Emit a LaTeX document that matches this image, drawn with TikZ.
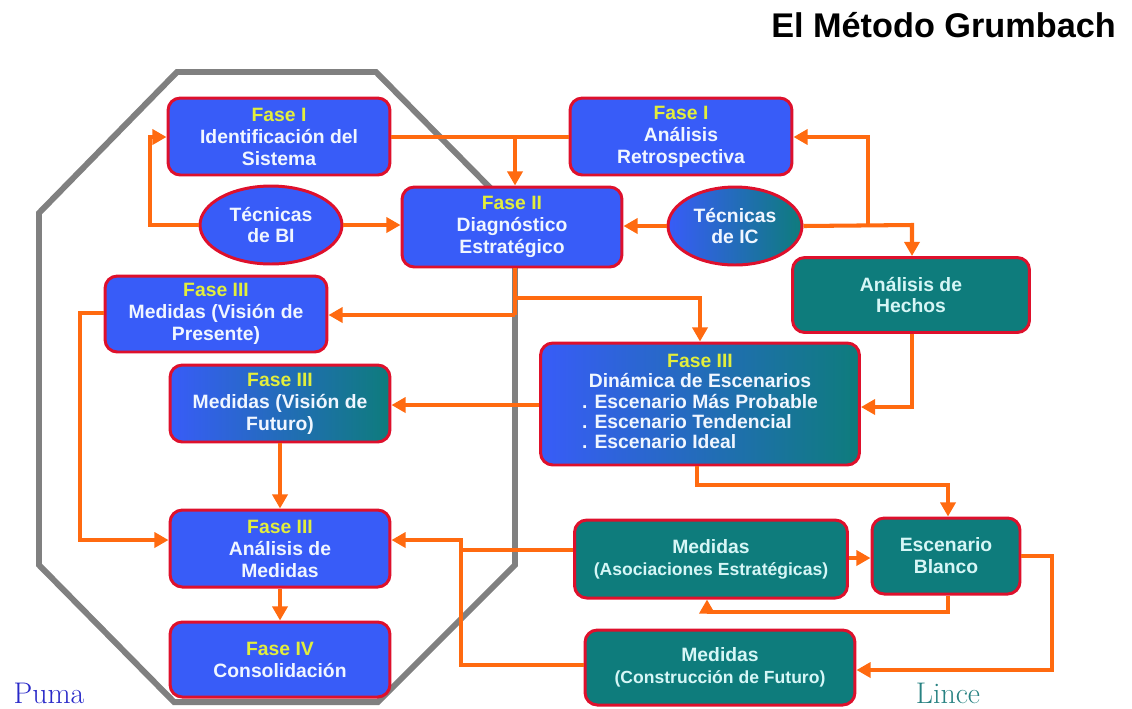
\documentclass[tikz,border=0pt]{standalone}
\usepackage{fontspec}
\setmainfont{Liberation Sans}
\newfontfamily\serifface{Latin Modern Roman}
\usetikzlibrary{shapes.geometric,arrows.meta,positioning}

\definecolor{boxblue}{RGB}{56,92,248}
\definecolor{boxteal}{RGB}{14,124,124}
\definecolor{edgered}{RGB}{222,16,44}
\definecolor{flow}{RGB}{255,106,16}
\definecolor{hull}{RGB}{128,128,128}
\definecolor{phase}{RGB}{226,238,60}
\definecolor{bluetext}{RGB}{240,246,255}
\definecolor{tealtext}{RGB}{214,246,246}
\definecolor{pumablue}{RGB}{40,40,200}
\definecolor{lincegreen}{RGB}{40,130,130}

\newcommand{\fase}[1]{{\color{phase}#1}}

\tikzset{
  base/.style={draw=edgered, line width=1.7pt, align=center, inner sep=2pt,
    font=\fontsize{11}{12.5}\selectfont\bfseries},
  bluebox/.style={base, rectangle, rounded corners=7pt, fill=boxblue, text=bluetext},
  tealbox/.style={base, rectangle, rounded corners=7pt, fill=boxteal, text=tealtext},
  mixbox/.style={base, rectangle, rounded corners=7pt, left color=boxblue, right color=boxteal, text=bluetext},
  blueoval/.style={base, ellipse, fill=boxblue, text=bluetext},
  mixoval/.style={base, ellipse, left color=boxblue, right color=boxteal, text=bluetext},
  corner/.style={inner sep=0pt, font=\serifface\fontsize{17}{18}\selectfont},
  link/.style={draw=flow, line width=2.3pt},
  arrow/.style={link, -{Triangle[length=8pt,width=8.5pt]}},
}

\begin{document}
\begin{tikzpicture}[x=0.02cm, y=-0.02cm]
\useasboundingbox (0,0) rectangle (1132,708);

% title
\node[font=\fontsize{19.5}{22}\selectfont\bfseries, anchor=east] (title) at (1122,25) {El Método Grumbach};

% grey hull round the left-hand phases
\draw[hull, line width=3.4pt, line join=miter]
  (177,72) -- (376,72) -- (515,213) -- (515,565) -- (378,702)
  -- (174,702) -- (39,565) -- (39,213) -- cycle;

% nodes
\node[bluebox, minimum width=4.44cm, minimum height=1.54cm] (ident) at (279,136.5)
  {\fase{Fase I}\\Identificación del\\Sistema};
\node[bluebox, minimum width=4.44cm, minimum height=1.54cm] (retro) at (681,136.5)
  {\fase{Fase I}\\Análisis\\Retrospectiva};
\node[blueoval, minimum width=2.84cm, minimum height=1.56cm] (tbi) at (271,225)
  {Técnicas\\de BI};
\node[bluebox, minimum width=4.4cm, minimum height=1.6cm] (diag) at (512,227)
  {\fase{Fase II}\\Diagnóstico\\Estratégico};
\node[mixoval, minimum width=2.68cm, minimum height=1.56cm] (tic) at (735,226)
  {Técnicas\\de IC};
\node[tealbox, minimum width=4.74cm, minimum height=1.5cm] (hechos) at (911,295)
  {Análisis de\\Hechos};
\node[bluebox, minimum width=4.44cm, minimum height=1.52cm] (pres) at (216,314)
  {\fase{Fase III}\\Medidas (Visión de\\Presente)};
\node[mixbox, minimum width=4.4cm, minimum height=1.54cm] (fut) at (280,403.5)
  {\fase{Fase III}\\Medidas (Visión de\\Futuro)};
\node[mixbox, minimum width=6.38cm, minimum height=2.44cm] (din) at (700,404)
  {\renewcommand{\arraystretch}{0.93}%
   \begin{tabular}{@{}l@{}}
   \multicolumn{1}{@{}c@{}}{\fase{Fase III}}\\
   \multicolumn{1}{@{}c@{}}{Dinámica de Escenarios}\\
   . Escenario Más Probable\\
   . Escenario Tendencial\\
   . Escenario Ideal
   \end{tabular}};
\node[bluebox, minimum width=4.4cm, minimum height=1.54cm] (anmed) at (280,548.5)
  {\fase{Fase III}\\Análisis de\\Medidas};
\node[bluebox, minimum width=4.4cm, minimum height=1.5cm] (cons) at (280,659.5)
  {\fase{Fase IV}\\Consolidación};
\node[tealbox, minimum width=5.46cm, minimum height=1.56cm] (asoc) at (711,559)
  {Medidas\\{\fontsize{10}{13}\selectfont(Asociaciones Estratégicas)}};
\node[tealbox, minimum width=2.96cm, minimum height=1.52cm] (blanco) at (946,556)
  {Escenario\\Blanco};
\node[tealbox, minimum width=5.4cm, minimum height=1.5cm] (constr) at (720,667.5)
  {Medidas\\{\fontsize{10}{13}\selectfont(Construcción de Futuro)}};

% corner labels
\node[corner, text=pumablue, anchor=base] (puma) at (49,703) {Puma};
\node[corner, text=lincegreen, anchor=base] (lince) at (948,703) {Lince};

% junction points
\coordinate (j1) at (515,137);
\coordinate (j2) at (868,225);
\coordinate (j3) at (515,298);
\coordinate (j4) at (461,550);

% connectors
\draw[link] (ident.east |- j1) -- (retro.west |- j1);
\draw[arrow] (j1) -- (j1 |- diag.north);
\draw[arrow] (tbi.west) -- (150,225) -- (150,137) -- (ident.west |- j1);
\draw[arrow] (tbi.east) -- (diag.west |- tbi.east);
\draw[arrow] (tic.west) -- (diag.east |- tic.west);
\draw[arrow] (tic.east) -- (912,225) -- (912,225 |- hechos.north);
\draw[arrow] (j2) -- (868,137) -- (retro.east |- j1);
\draw[link] (diag.south -| j3) -- (515,315);
\draw[arrow] (515,315) -- (pres.east |- 515,315);
\draw[arrow] (j3) -- (700,298) -- (700,298 |- din.north);
\draw[arrow] (hechos.south -| 912,0) -- (912,407) -- (din.east |- 912,407);
\draw[arrow] (din.west |- 0,405) -- (fut.east |- 0,405);
\draw[arrow] (din.south -| 697,0) -- (697,485) -- (948,485) -- (948,485 |- blanco.north);
\draw[arrow] (asoc.east |- 0,558) -- (blanco.west |- 0,558);
\draw[arrow] (blanco.south -| 948,0) -- (948,612) -- (707,612) -- (707,612 |- asoc.south);
\draw[arrow] (blanco.east |- 0,556) -- (1052,556) -- (1052,670) -- (constr.east |- 0,670);
\draw[link] (asoc.west |- j4) -- (j4);
\draw[arrow] (constr.west |- 0,665) -- (461,665) -- (461,540) -- (anmed.east |- 0,540);
\draw[arrow] (pres.west |- 0,313) -- (80,313) -- (80,540) -- (anmed.west |- 0,540);
\draw[arrow] (fut.south) -- (anmed.north);
\draw[arrow] (anmed.south) -- (cons.north);
\end{tikzpicture}
\end{document}
